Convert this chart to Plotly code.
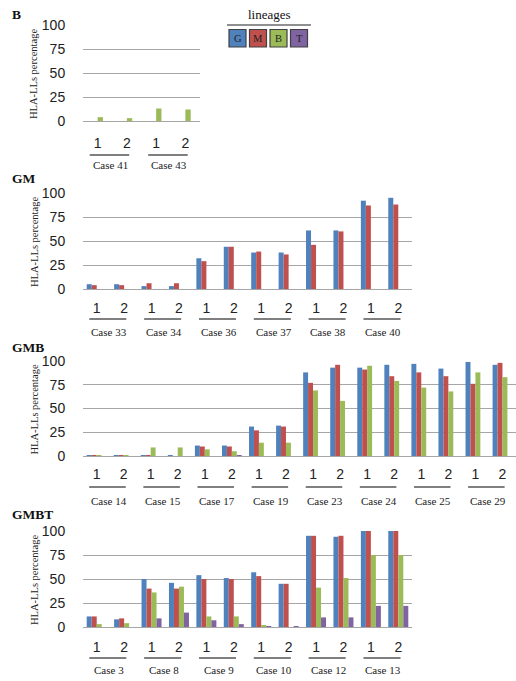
import plotly.graph_objects as go

W, H = 516, 681

# ---------------- data ----------------
reps = ["1", "2"]

b_cases = ["Case 41", "Case 43"]
b_G = [0, 0, 0, 0]
b_M = [0, 0, 0, 0]
b_B = [4, 3, 13, 12]
b_T = [0, 0, 0, 0]

gm_cases = ["Case 33", "Case 34", "Case 36", "Case 37", "Case 38", "Case 40"]
gm_G = [5, 5, 3, 3, 32, 44, 38, 38, 61, 61, 92, 95]
gm_M = [4, 4, 6, 6, 29, 44, 39, 36, 46, 60, 87, 88]
gm_B = [0] * 12
gm_T = [0] * 12

gmb_cases = ["Case 14", "Case 15", "Case 17", "Case 19", "Case 23", "Case 24", "Case 25", "Case 29"]
gmb_G = [1, 1, 1, 1, 11, 11, 31, 32, 88, 93, 93, 96, 97, 92, 99, 96]
gmb_M = [1, 1, 1, 0, 10, 10, 27, 31, 77, 96, 91, 84, 88, 84, 76, 98]
gmb_B = [1, 1, 9, 9, 7, 5, 14, 14, 69, 58, 95, 79, 72, 68, 88, 83]
gmb_T = [0, 0, 0, 0, 0, 1, 0, 0, 0, 0, 0, 0, 0, 0, 0, 0]

gmbt_cases = ["Case 3", "Case 8", "Case 9", "Case 10", "Case 12", "Case 13"]
gmbt_G = [11, 8, 50, 46, 54, 51, 57, 45, 95, 94, 100, 100]
gmbt_M = [11, 9, 40, 40, 50, 50, 53, 45, 95, 95, 100, 100]
gmbt_B = [3, 4, 36, 42, 11, 11, 2, 0, 41, 51, 75, 75]
gmbt_T = [0, 0, 9, 15, 7, 3, 1, 1, 10, 10, 22, 22]

lineages = ["G", "M", "B", "T"]
colors = {"G": "#4F81BD", "M": "#C0504D", "B": "#9BBB59", "T": "#8064A2"}
y_ticks = [0, 25, 50, 75, 100]

# ---------------- layout geometry (window pixels) ----------------
panels = [
    # title, cases, series, x0, x1, ytop, ybot, tick label y, underline y, case label y, title y
    ("B", b_cases, (b_G, b_M, b_B, b_T), 83, 200, 25, 121, 144, 155, 165, 15),
    ("GM", gm_cases, (gm_G, gm_M, gm_B, gm_T), 83, 412, 193, 289, 309, 319, 332, 178),
    ("GMB", gmb_cases, (gmb_G, gmb_M, gmb_B, gmb_T), 83, 516, 361, 456, 475, 487, 501, 347),
    ("GMBT", gmbt_cases, (gmbt_G, gmbt_M, gmbt_B, gmbt_T), 83, 412, 531, 627, 648, 658, 670, 514),
]

def py(p):
    return 1 - p / H

def px(p):
    return min(1.0, p / W)

fig = go.Figure()
shapes = []
annotations = []
serif = "Liberation Serif"
sans = "Liberation Sans"
grid_col = "#A6A6A6"

for i, (title, cases, series, x0, x1, yt, yb, tly, uly, cly, tty) in enumerate(panels):
    n = i + 1
    xa = "x" if n == 1 else f"x{n}"
    ya = "y" if n == 1 else f"y{n}"
    cats = [f"{c}|{r}" for c in cases for r in reps]
    ticktext = [r for c in cases for r in reps]
    for lin, vals in zip(lineages, series):
        fig.add_trace(go.Bar(
            x=cats, y=vals, name=lin, marker_color=colors[lin],
            marker_line_width=0, xaxis=xa, yaxis=ya, showlegend=False,
        ))
    fig.update_layout(**{
        ("xaxis" if n == 1 else f"xaxis{n}"): dict(
            domain=[px(x0), px(x1)], anchor=ya, type="category",
            categoryorder="array", categoryarray=cats,
            tickmode="array", tickvals=cats, ticktext=ticktext,
            ticks="outside", ticklen=max(1, (tly - yb) - 14), tickcolor="rgba(0,0,0,0)",
            tickfont=dict(family=sans, size=14, color="#222"),
            showline=True, linecolor=grid_col, linewidth=1,
            showgrid=False, zeroline=False, fixedrange=True, automargin=False,
        ),
        ("yaxis" if n == 1 else f"yaxis{n}"): dict(
            domain=[py(yb), py(yt)], anchor=xa, range=[0, 100],
            tickmode="array", tickvals=y_ticks,
            ticks="outside", ticklen=14, tickcolor="rgba(0,0,0,0)",
            tickfont=dict(family=sans, size=14, color="#222"),
            showgrid=True, gridcolor=grid_col, gridwidth=1,
            zeroline=False, showline=False, fixedrange=True, automargin=False,
        ),
    })
    for k, c in enumerate(cases):
        idx = 2 * k
        shapes.append(dict(type="line", xref=xa, yref="paper",
                           x0=idx - 0.27, x1=idx + 1.08, y0=py(uly), y1=py(uly),
                           line=dict(color="#555555", width=1.5)))
        annotations.append(dict(xref=xa, yref="paper", x=idx + 0.45, y=py(cly),
                                text=c, showarrow=False,
                                font=dict(family=serif, size=11, color="#222"),
                                xanchor="center", yanchor="middle"))
    annotations.append(dict(xref="paper", yref="paper", x=px(10), y=py(tty),
                            text=f"<b>{title}</b>", showarrow=False,
                            font=dict(family=serif, size=13.5, color="#111"),
                            xanchor="left", yanchor="middle"))
    annotations.append(dict(xref="paper", yref="paper", x=px(34), y=py((yt + yb) / 2 + 1),
                            text="HLA-LLs percentage", showarrow=False, textangle=-90,
                            font=dict(family=serif, size=10.5, color="#222"),
                            xanchor="center", yanchor="middle"))

annotations.append(dict(xref="paper", yref="paper", x=px(269), y=py(15),
                        text="lineages", showarrow=False,
                        font=dict(family=serif, size=13, color="#111"),
                        xanchor="center", yanchor="middle"))
shapes.append(dict(type="line", xref="paper", yref="paper",
                   x0=px(227), x1=px(311), y0=py(25), y1=py(25),
                   line=dict(color="#222", width=1.2)))
sq_left = [229, 249.5, 270, 290.5]
for lin, l in zip(lineages, sq_left):
    shapes.append(dict(type="rect", xref="paper", yref="paper",
                       x0=px(l), x1=px(l + 17), y0=py(47), y1=py(29.5),
                       fillcolor=colors[lin], line=dict(color="#404040", width=1.2)))
    annotations.append(dict(xref="paper", yref="paper", x=px(l + 8.5), y=py(38.5),
                            text=lin, showarrow=False,
                            font=dict(family=serif, size=10.5, color="#222"),
                            xanchor="center", yanchor="middle"))

fig.update_layout(
    width=W, height=H, margin=dict(l=0, r=0, t=0, b=0, autoexpand=False),
    barmode="group", bargap=0.27, bargroupgap=0,
    plot_bgcolor="white", paper_bgcolor="white",
    shapes=shapes, annotations=annotations,
)

fig.write_html(
    "out.html", config={"displayModeBar": False},
    post_script="document.body.style.margin='0';document.body.style.overflow='hidden';"
                "document.documentElement.style.overflow='hidden';",
)
